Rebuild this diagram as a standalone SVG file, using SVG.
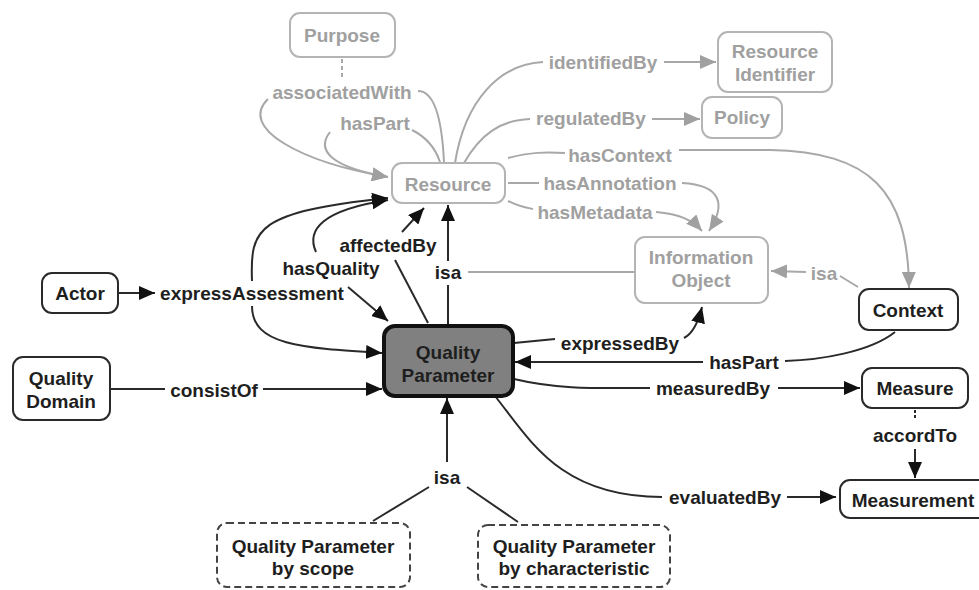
<svg xmlns="http://www.w3.org/2000/svg" width="979" height="590" viewBox="0 0 979 590">
<style>
text{font-family:"Liberation Sans",Arial,sans-serif;font-weight:bold;font-size:19px;text-anchor:middle}
.g text,text.g{fill:#a0a0a0}
.k text,text.k{fill:#1e1e1e}
.gn{fill:#fff;stroke:#b4b4b4;stroke-width:2}
.kn{fill:#fff;stroke:#2a2a2a;stroke-width:2}
.dn{fill:#fff;stroke:#444;stroke-width:2;stroke-dasharray:7,4}
.qp{fill:#808080;stroke:#111;stroke-width:4}
.gl{fill:none;stroke:#a8a8a8;stroke-width:2}
.kl{fill:none;stroke:#2a2a2a;stroke-width:2}
.ga{marker-end:url(#ag)}
.ka{marker-end:url(#ak)}
</style>
<defs>
<marker id="ag" markerUnits="userSpaceOnUse" markerWidth="16" markerHeight="14" refX="16" refY="7" orient="auto"><path d="M0,0L16,7L0,14z" fill="#a0a0a0"/></marker>
<marker id="ak" markerUnits="userSpaceOnUse" markerWidth="16" markerHeight="14" refX="16" refY="7" orient="auto"><path d="M0,0L16,7L0,14z" fill="#111"/></marker>
</defs>
<rect width="979" height="590" fill="#fff"/>
<g id="connectors">
<path class="gl" d="M342,59L342,80" stroke-dasharray="4,3"/>
<path class="gl" d="M418,91C435,91 442,120 444,162"/>
<path class="gl ga" d="M268,99C238,128 300,162 388,177"/>
<path class="gl" d="M412,130C428,138 436,150 440,162"/>
<path class="gl ga" d="M330,132C316,150 330,167 388,177"/>
<path class="gl" d="M455,163C465,100 500,64 543,62"/>
<path class="gl ga" d="M664,62L716,62"/>
<path class="gl" d="M464,163C480,135 500,120 530,119"/>
<path class="gl ga" d="M652,119L700,119"/>
<path class="gl" d="M508,158C530,152 545,152 565,153"/>
<path class="gl ga" d="M679,150L770,150C870,152 908,190 909,288"/>
<path class="gl" d="M508,183L539,183"/>
<path class="gl ga" d="M682,183C722,185 726,205 709,231"/>
<path class="gl" d="M508,201C520,207 527,208 533,209"/>
<path class="gl ga" d="M656,212C680,214 692,220 702,231"/>
<path class="gl ga" d="M806,272L771,271"/>
<path class="gl" d="M840,276L858,287"/>
<path class="gl" d="M468,272L635,272"/>
<path class="kl" d="M448,324L448,285"/>
<path class="kl ka" d="M448,261L448,205"/>
<path class="kl" d="M428,323L395,260"/>
<path class="kl ka" d="M402,232L424,208"/>
<path class="kl ka" d="M316,252C306,230 322,210 388,200"/>
<path class="kl ka" d="M348,287L388,321"/>
<path class="kl ka" d="M118,293L155,293"/>
<path class="kl ka" d="M252,281C250,228 256,212 388,198"/>
<path class="kl ka" d="M252,306C252,345 300,348 382,353"/>
<path class="kl" d="M110,389L165,389"/>
<path class="kl ka" d="M263,389L382,389"/>
<path class="kl" d="M514,343L555,339"/>
<path class="kl ka" d="M684,338C690,335 697,327 702,307"/>
<path class="kl" d="M895,332C870,352 820,360 785,361"/>
<path class="kl ka" d="M703,362L515,362"/>
<path class="kl" d="M514,379C560,390 600,388 650,388"/>
<path class="kl ka" d="M778,388L860,388"/>
<path class="kl" d="M915,410L915,420" stroke-dasharray="3,2"/>
<path class="kl ka" d="M915,449L915,478"/>
<path class="kl" d="M495,396C530,440 560,497 662,497"/>
<path class="kl ka" d="M787,497L836,497"/>
<path class="kl ka" d="M447,462L447,398"/>
<path class="kl" d="M429,487L373,521"/>
<path class="kl" d="M467,487L518,522"/>
</g>
<g id="purpose" class="g"><rect class="gn" x="290" y="13" width="105" height="44" rx="10"/><text x="342" y="42">Purpose</text></g>
<g id="resource" class="g"><rect class="gn" x="392" y="163" width="113" height="40" rx="10"/><text x="448" y="191">Resource</text></g>
<g id="resource-identifier" class="g"><rect class="gn" x="718" y="32" width="114" height="60" rx="10"/><text x="775" y="58">Resource</text><text x="775" y="81">Identifier</text></g>
<g id="policy" class="g"><rect class="gn" x="702" y="97" width="80" height="41" rx="10"/><text x="742" y="124">Policy</text></g>
<g id="information-object" class="g"><rect class="gn" x="635" y="237" width="133" height="66" rx="10"/><text x="701" y="264">Information</text><text x="701" y="287">Object</text></g>
<g id="context" class="k"><rect class="kn" x="859" y="289" width="99" height="41" rx="10"/><text x="908" y="317">Context</text></g>
<g id="measure" class="k"><rect class="kn" x="862" y="368" width="106" height="40" rx="10"/><text x="915" y="395">Measure</text></g>
<g id="measurement" class="k"><rect class="kn" x="840" y="480" width="150" height="38" rx="10"/><text x="913" y="507">Measurement</text></g>
<g id="actor" class="k"><rect class="kn" x="42" y="273" width="76" height="40" rx="10"/><text x="80" y="300">Actor</text></g>
<g id="quality-domain" class="k"><rect class="kn" x="13" y="357" width="97" height="63" rx="10"/><text x="61" y="385">Quality</text><text x="61" y="408">Domain</text></g>
<g id="quality-parameter" class="k"><rect class="qp" x="384" y="326" width="129" height="70" rx="11"/><text x="448" y="359">Quality</text><text x="448" y="382">Parameter</text></g>
<g id="qp-scope" class="k"><rect class="dn" x="217" y="523" width="193" height="64" rx="10"/><text x="313" y="553">Quality Parameter</text><text x="313" y="575">by scope</text></g>
<g id="qp-characteristic" class="k"><rect class="dn" x="478" y="525" width="192" height="62" rx="10"/><text x="574" y="553">Quality Parameter</text><text x="574" y="575">by characteristic</text></g>
<g id="lp-associatedWith" class="g"><text x="342" y="99">associatedWith</text></g>
<g id="lp-hasPart-resource" class="g"><text x="375" y="130">hasPart</text></g>
<g id="lp-identifiedBy" class="g"><text x="603" y="69">identifiedBy</text></g>
<g id="lp-regulatedBy" class="g"><text x="591" y="125">regulatedBy</text></g>
<g id="lp-hasContext" class="g"><text x="620" y="162">hasContext</text></g>
<g id="lp-hasAnnotation" class="g"><text x="610" y="190">hasAnnotation</text></g>
<g id="lp-hasMetadata" class="g"><text x="595" y="219">hasMetadata</text></g>
<g id="lp-isa-context" class="g"><text x="824" y="280">isa</text></g>
<g id="lp-affectedBy" class="k"><text x="388" y="252">affectedBy</text></g>
<g id="lp-hasQuality" class="k"><text x="331" y="275">hasQuality</text></g>
<g id="lp-isa-resource" class="k"><text x="448" y="279">isa</text></g>
<g id="lp-expressAssessment" class="k"><text x="252" y="300">expressAssessment</text></g>
<g id="lp-consistOf" class="k"><text x="214" y="397">consistOf</text></g>
<g id="lp-expressedBy" class="k"><text x="620" y="350">expressedBy</text></g>
<g id="lp-hasPart-context" class="k"><text x="744" y="369">hasPart</text></g>
<g id="lp-measuredBy" class="k"><text x="713" y="395">measuredBy</text></g>
<g id="lp-accordTo" class="k"><text x="915" y="442">accordTo</text></g>
<g id="lp-evaluatedBy" class="k"><text x="725" y="504">evaluatedBy</text></g>
<g id="lp-isa-qp" class="k"><text x="447" y="484">isa</text></g>
</svg>
